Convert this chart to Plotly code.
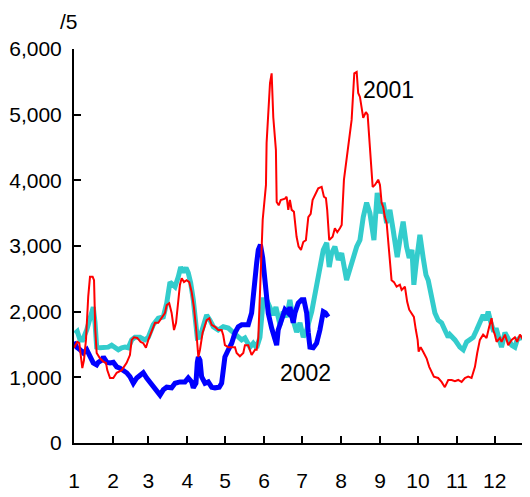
import plotly.graph_objects as go

# dias desde 1 de janeiro / valores
dias_2001 = [0, 2.6, 4.2, 5.3, 6.6, 7.9, 9.5, 11.3, 12.7, 14.8, 15.9, 16.9, 18.0, 20.6, 23.3, 25.4,
             26.4, 28.6, 31.2, 33.9, 37.9, 41.8, 44.4, 45.8, 47.6, 50.2, 52.9, 55.0, 57.1, 59.0,
             61.7, 64.3, 66.9, 69.6, 72.2, 73.6, 75.6, 77.5, 79.4, 81.0, 82.8, 84.1, 85.5, 87.3,
             89.4, 91.5, 93.4, 95.2, 96.8, 97.9, 98.7, 100.0, 102.1, 105.3, 107.4, 109.3, 111.9,
             114.5, 117.2, 118.5, 119.8, 122.5, 125.2, 127.8, 129.1, 131.7, 134.4, 135.7, 138.3,
             139.7, 141.0, 143.7, 145.0, 146.3, 147.6, 149.0, 149.8, 152.4, 152.9, 155.6, 156.9,
             158.2, 160.3, 160.9, 162.5, 164.1, 167.5, 168.8, 170.1, 171.4, 172.8, 174.6, 175.4,
             176.7, 178.3, 180.2, 182.0, 184.1, 186.0, 187.9, 189.4, 191.3, 193.9, 196.6, 198.4,
             200.0, 201.0, 202.6, 205.3, 207.1, 209.0, 211.1, 212.5, 214.3, 217.7, 220.4, 222.5,
             224.4, 225.6, 227.0, 229.6, 231.7, 233.1, 234.9, 237.1, 238.9, 241.5, 242.9, 244.2,
             245.5, 246.8, 248.2, 249.4, 250.8, 252.1, 254.0, 256.1, 258.7, 260.1, 262.7, 264.5,
             266.1, 268.0, 269.8, 271.4, 272.8, 273.6, 275.2, 277.2, 279.9, 282.0, 283.9, 285.7,
             289.1, 291.8, 294.4, 297.1, 299.8, 302.4, 305.0, 307.7, 310.3, 312.9, 315.6, 318.3,
             320.1, 322.2, 324.8, 327.5, 329.6, 331.5, 332.8, 334.1, 335.5, 338.1, 339.4, 342.1,
             344.7, 347.4, 350.0, 351.8, 354.0, 356.6, 359.3]
valores_2001 = [1450, 1540, 1520, 1310, 1140, 1260, 1570, 2230, 2530, 2530, 2480, 1720, 1370, 1290,
                1240, 1220, 1110, 990, 990, 1070, 1110, 1220, 1340, 1570, 1610, 1600, 1540, 1520,
                1450, 1570, 1720, 1830, 1830, 1900, 1980, 2100, 2130, 1980, 1720, 1830, 2130, 2410,
                2510, 2450, 2480, 2450, 2300, 2070, 1770, 1460, 1310, 1420, 1680, 1870, 1900, 1800,
                1770, 1720, 1720, 1640, 1490, 1460, 1460, 1460, 1370, 1320, 1370, 1490, 1490, 1420,
                1340, 1420, 1420, 1600, 2330, 3090, 3400, 3930, 4570, 5480, 5630, 4960, 4460, 3670,
                3620, 3700, 3720, 3750, 3550, 3700, 3550, 3520, 3350, 3140, 2990, 2940, 3060, 3090,
                3440, 3490, 3700, 3780, 3880, 3900, 3750, 3730, 3550, 3090, 3140, 3270, 3210, 3270,
                3320, 4010, 4510, 4920, 5630, 5650, 5330, 5270, 4950, 5040, 5000, 4510, 3900, 3930,
                4010, 3930, 3660, 3590, 3440, 3350, 3090, 2790, 2480, 2450, 2380, 2410, 2330, 2380,
                2150, 2030, 1980, 1920, 1720, 1570, 1390, 1460, 1390, 1290, 1160, 1070, 1010, 990,
                930, 850, 960, 960, 940, 960, 930, 990, 1010, 990, 1160, 1370, 1570, 1650, 1600,
                1770, 1900, 1720, 1650, 1540, 1600, 1540, 1650, 1490, 1570, 1610, 1540, 1650, 1570,
                1520]

dias_media = [0.8, 2.6, 4.8, 6.9, 10.1, 13.3, 15.3, 16.7, 18.0, 20.6, 24.6, 27.2, 29.9, 32.5, 35.2,
              37.9, 40.5, 43.1, 45.8, 48.4, 52.4, 56.3, 59.0, 62.9, 66.9, 70.9, 73.6, 76.2, 80.2,
              82.8, 84.7, 86.7, 88.9, 90.7, 92.6, 94.7, 96.0, 97.9, 100.0, 102.6, 105.3, 107.9,
              110.6, 114.5, 118.5, 122.5, 126.4, 130.4, 133.1, 135.7, 139.7, 142.3, 145.0, 147.6,
              149.0, 150.2, 152.9, 155.6, 158.2, 160.3, 163.5, 166.1, 168.8, 171.4, 174.0, 176.7,
              179.4, 182.0, 184.7, 188.7, 192.6, 195.2, 197.9, 200.6, 202.6, 204.5, 207.1, 209.8,
              212.5, 216.4, 220.4, 224.4, 227.0, 229.6, 232.3, 234.9, 238.1, 240.7, 242.9, 245.5,
              248.2, 250.8, 253.4, 256.6, 258.7, 261.3, 264.0, 266.1, 268.3, 269.8, 271.8, 274.6,
              277.2, 279.4, 281.2, 283.9, 286.5, 289.1, 291.8, 294.4, 297.1, 298.4, 302.4, 306.3,
              309.0, 311.7, 314.3, 316.9, 319.6, 322.2, 324.8, 327.0, 328.8, 331.0, 332.8, 335.5,
              338.1, 339.4, 342.1, 344.7, 347.4, 350.0, 351.8, 354.0, 356.6, 359.3]
valores_media = [1670, 1700, 1570, 1570, 1720, 1920, 2070, 1830, 1460, 1450, 1450, 1460, 1490, 1450,
                 1420, 1450, 1460, 1450, 1570, 1610, 1610, 1570, 1610, 1800, 1900, 1920, 2130, 2450,
                 2380, 2530, 2680, 2600, 2670, 2590, 2440, 2180, 1920, 1600, 1610, 1750, 1950, 1870,
                 1770, 1720, 1770, 1750, 1690, 1610, 1570, 1600, 1460, 1520, 1450, 1610, 2070, 2180,
                 2180, 2070, 1950, 2070, 1800, 2000, 1920, 2180, 1870, 1690, 1830, 1610, 1720, 2000,
                 2380, 2590, 2940, 3050, 2680, 2890, 2990, 2790, 2890, 2480, 2740, 2990, 3090, 3440,
                 3660, 3500, 3090, 3810, 3500, 3660, 3350, 3550, 3240, 2830, 3090, 3370, 2990, 2820,
                 2940, 2410, 2760, 3170, 2820, 2560, 2480, 2180, 1980, 1870, 1830, 1720, 1610, 1650,
                 1570, 1460, 1420, 1540, 1570, 1610, 1720, 1830, 1950, 1870, 2000, 1830, 1720, 1720,
                 1570, 1460, 1680, 1570, 1490, 1460, 1570, 1600, 1610, 1610]

dias_2002 = [0, 2.1, 4.8, 7.4, 10.1, 12.7, 15.3, 18.0, 19.3, 22.0, 23.3, 26.0, 28.6, 31.2, 33.9,
             36.5, 39.1, 41.8, 44.4, 47.1, 49.8, 52.4, 55.0, 57.7, 60.3, 62.9, 65.6, 68.3, 70.9,
             73.6, 77.5, 80.2, 84.1, 88.1, 90.7, 93.4, 94.7, 96.8, 97.9, 98.7, 100.0, 101.3, 104.0,
             106.6, 109.3, 111.9, 115.3, 117.2, 118.5, 119.8, 122.5, 125.2, 127.8, 130.4, 133.1,
             135.7, 138.3, 141.0, 142.3, 143.7, 145.0, 146.3, 148.0, 149.8, 151.6, 152.9, 154.2,
             156.9, 159.5, 160.9, 162.1, 164.8, 167.5, 170.1, 171.4, 174.0, 175.4, 178.0, 180.7,
             182.5, 184.7, 186.0, 187.3, 189.9, 192.6, 195.2, 197.9, 199.6, 201.8]
valores_2002 = [1540, 1460, 1420, 1370, 1420, 1310, 1220, 1190, 1230, 1260, 1310, 1230, 1220, 1230,
                1160, 1140, 1110, 1070, 1010, 910, 990, 1040, 1070, 990, 930, 850, 810, 730, 810,
                850, 840, 910, 930, 930, 990, 930, 840, 910, 1230, 1310, 1260, 1010, 910, 930, 850,
                840, 850, 910, 1110, 1310, 1420, 1520, 1680, 1770, 1800, 1800, 1800, 1980, 2280,
                2530, 2740, 2940, 3020, 2820, 2530, 2280, 1980, 1750, 1570, 1490, 1720, 1870, 2030,
                1980, 2070, 1830, 1980, 2130, 2180, 2180, 1980, 1680, 1460, 1450, 1520, 1720, 2000,
                1980, 1920]

inicio_mes = [0, 31, 59, 90, 120, 151, 181, 212, 243, 273, 304, 334]
meses = [str(m) for m in range(1, 13)]

fonte = "Liberation Sans, Arial, sans-serif"

fig = go.Figure()
fig.add_trace(go.Scatter(x=dias_media, y=valores_media, mode="lines",
                         line=dict(color="#33CCCC", width=5), name="media"))
fig.add_trace(go.Scatter(x=dias_2002, y=valores_2002, mode="lines",
                         line=dict(color="#0000FF", width=5), name="2002"))
fig.add_trace(go.Scatter(x=dias_2001, y=valores_2001, mode="lines",
                         line=dict(color="#FF0000", width=2), name="2001"))

fig.add_annotation(x=250, y=5380, text="2001", showarrow=False,
                   font=dict(size=23, color="black", family=fonte))
fig.add_annotation(x=184, y=1070, text="2002", showarrow=False,
                   font=dict(size=23, color="black", family=fonte))
fig.add_annotation(xref="paper", yref="paper", x=-0.035, y=1.105, text="/5",
                   showarrow=False, font=dict(size=21, color="black", family=fonte))

fig.update_layout(
    width=522, height=489,
    margin=dict(l=66, r=0, t=41, b=54, autoexpand=False),
    plot_bgcolor="white", paper_bgcolor="white",
    showlegend=False,
    font=dict(family=fonte, size=21, color="black"),
)
fig.update_xaxes(range=[0, 362], tickvals=inicio_mes, ticktext=meses,
                 ticks="inside", ticklen=7, tickwidth=2, tickcolor="black",
                 showline=True, linecolor="black", linewidth=2, automargin=False,
                 showgrid=False, zeroline=False, ticklabelstandoff=18)
fig.update_yaxes(range=[0, 6000], dtick=1000, tickformat=",",
                 ticks="inside", ticklen=7, tickwidth=2, tickcolor="black",
                 showline=True, linecolor="black", linewidth=2, automargin=False,
                 showgrid=False, zeroline=False, ticklabelstandoff=6)

fig.write_html("out.html")
